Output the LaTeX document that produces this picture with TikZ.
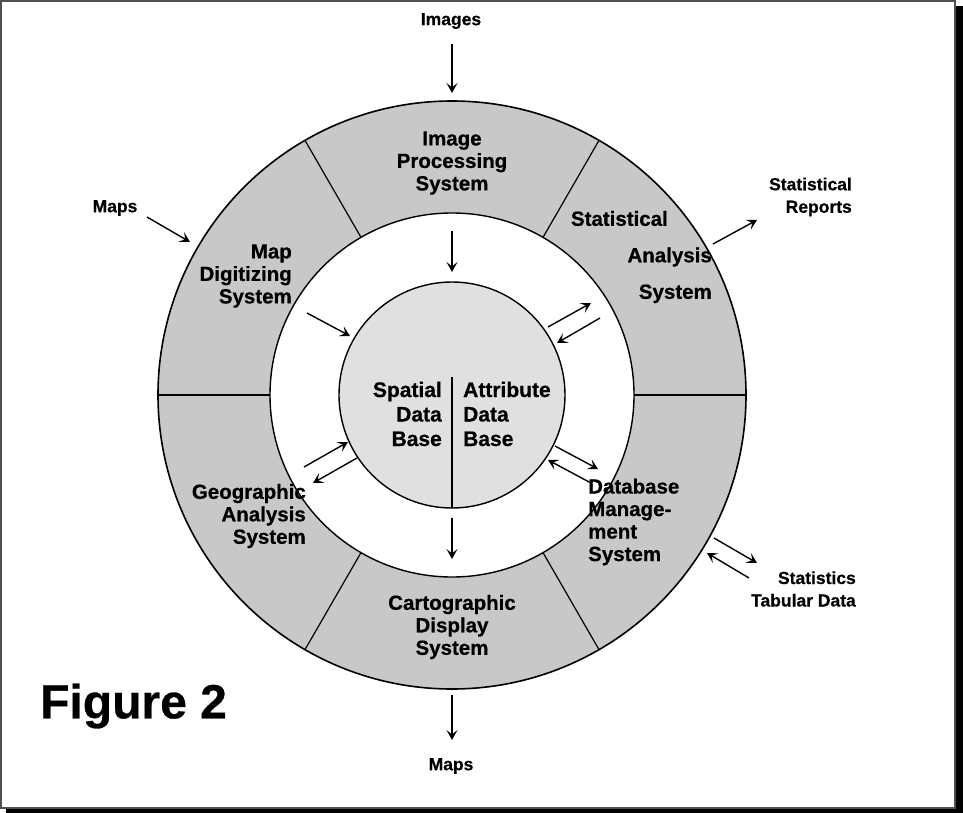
\documentclass[tikz,border=0pt]{standalone}
\usepackage{fontspec}
\setmainfont{Liberation Sans}[BoldFeatures={FakeBold=0.6}]
\usetikzlibrary{arrows.meta,calc}
\definecolor{ringgray}{RGB}{200,200,200}
\definecolor{centergray}{RGB}{224,224,224}
\definecolor{framegray}{RGB}{80,80,80}
\begin{document}
\begin{tikzpicture}[x=1pt,y=-1pt,
  arr/.style={line width=1.4pt,-{Stealth[length=10pt,width=11pt,inset=4.5pt]}},
  lbl/.style={font=\bfseries\fontsize{20.5}{22.5}\selectfont, inner sep=0pt},
  clbl/.style={font=\bfseries\fontsize{21}{24.5}\selectfont, inner sep=0pt},
  olbl/.style={font=\bfseries\fontsize{17.5}{22.5}\selectfont, inner sep=0pt}]
\useasboundingbox (0,0) rectangle (963,813);
\fill[black] (6,6) rectangle (963,813);
\draw[fill=white, draw=framegray, line width=1.5pt] (1,1) rectangle (955,808);
\coordinate (C) at (452,395);
\fill[ringgray] (C) circle[radius=294pt];
\fill[white] (C) circle[radius=182pt];
\foreach \a in {0,60,...,300}
  \draw[line width=1.2pt] ($(C)+(\a:182pt)$) -- ($(C)+(\a:294pt)$);
\draw[line width=1.6pt] (C) circle[radius=294pt];
\draw[line width=1.4pt] (C) circle[radius=182pt];
\draw[fill=centergray, line width=1.4pt] (C) circle[radius=113pt];
\coordinate (divtop) at (452,377);
\coordinate (divbot) at ($(C)+(0,113)$);
\draw[line width=1.3pt] (divtop) -- (divbot);

% sector labels
\node[lbl, align=center] (ips) at (452,163) {Image\\Processing\\System};
\node[lbl, align=right, anchor=east] (mds) at (292,276) {Map\\Digitizing\\System};
\node[lbl, align=right, anchor=east] (sas) at (712,257) {Statistical\hspace*{44pt}\\[14pt]Analysis\hspace*{22pt}\\[14pt]System};
\node[lbl, align=left, anchor=west] (dms) at (588,522) {Database\\Manage-\\ment\\System};
\node[lbl, align=right, anchor=east] (gas) at (306,516) {Geographic\\Analysis\\System};
\node[lbl, align=center] (cds) at (452,627) {Cartographic\\Display\\System};
\node[clbl, align=right, anchor=east] (sdb) at (442,414) {Spatial\\Data\\Base};
\node[clbl, align=left, anchor=west] (adb) at (463,414) {Attribute\\Data\\Base};

% outside labels
\node[olbl] (images) at (451,21) {Images};
\node[olbl] (mapsin) at (115,208) {Maps};
\node[olbl, align=right, anchor=east] (reports) at (852,197) {Statistical\\Reports};
\node[olbl, align=right, anchor=east] (tabular) at (856,589) {Statistics\\Tabular Data};
\node[olbl] (mapsout) at (451,766) {Maps};
\node[font=\bfseries\fontsize{48}{48}\selectfont, inner sep=0pt, anchor=west] (fig) at (40,706) {Figure 2};

% arrow coordinates
\coordinate (a1s) at (452,44);  \coordinate (a1e) at (452,93);
\coordinate (a2s) at (452,231); \coordinate (a2e) at (452,272);
\coordinate (a3s) at (147,217); \coordinate (a3e) at (190,242);
\coordinate (a4s) at (307,313); \coordinate (a4e) at (350,336);
\coordinate (a5s) at (713,244); \coordinate (a5e) at (757,220);
\coordinate (a6s) at (548,327); \coordinate (a6e) at (591,303);
\coordinate (a7s) at (600,318); \coordinate (a7e) at (557,343);
\coordinate (a8s) at (304,467); \coordinate (a8e) at (348,442);
\coordinate (a9s) at (357,458); \coordinate (a9e) at (313,483);
\coordinate (a10s) at (555,446); \coordinate (a10e) at (598,469);
\coordinate (a11s) at (591,483); \coordinate (a11e) at (548,460);
\coordinate (a12s) at (714,538); \coordinate (a12e) at (757,563);
\coordinate (a13s) at (749,578); \coordinate (a13e) at (707,553);
\coordinate (a14s) at (452,518); \coordinate (a14e) at (452,559);
\coordinate (a15s) at (452,695); \coordinate (a15e) at (452,740);
\foreach \i in {1,...,15} \draw[arr] (a\i s) -- (a\i e);
\end{tikzpicture}
\end{document}
